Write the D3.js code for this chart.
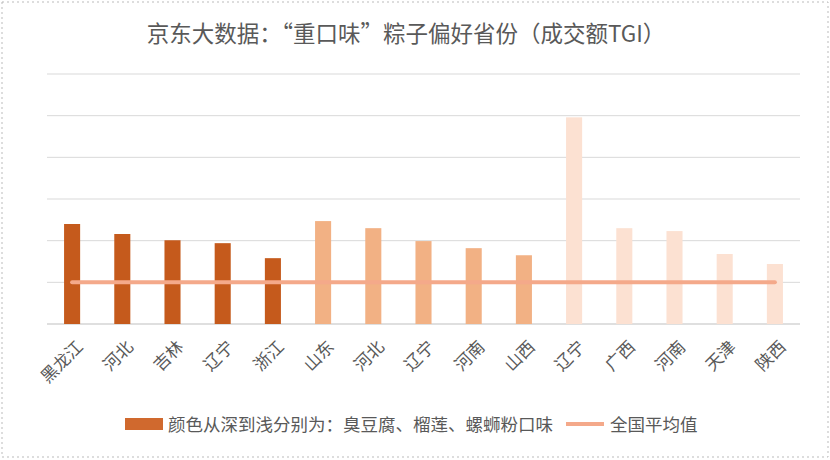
<!DOCTYPE html>
<html><head><meta charset="utf-8">
<script src="https://cdn.jsdelivr.net/npm/d3@7"></script>
<style>body{margin:0;background:#fff}svg{display:block}</style>
</head><body>
<svg id="c" width="830" height="460"></svg>
<script>
const categories = ["黑龙江","河北","吉林","辽宁","浙江","山东","河北","辽宁","河南","山西","辽宁","广西","河南","天津","陕西"];
const tgiValues = [240,216,201,194,158,247,230,199,182,165,496,230,223,168,144];
const flavorGroup = [0,0,0,0,0,1,1,1,1,1,2,2,2,2,2];
const avgValue = [100];
const yTicks = [0,100,200,300,400,500,600];
const groupColors = ["#C55A1C","#F2B184","#FCE1D2"];

const svg = d3.select("#c");
const font = "'Noto Sans CJK SC', sans-serif";
svg.append("rect").attr("x",2).attr("y",2).attr("width",826).attr("height",455)
  .attr("fill","#fff").attr("stroke","#bbb").attr("stroke-dasharray","2,3");
const m = {l:47,r:800,t:74,b:324};
const x = d3.scaleBand().domain(d3.range(categories.length)).range([m.l,m.r]).paddingInner(0.68).paddingOuter(0.34);
const y = d3.scaleLinear().domain([0,600]).range([m.b,m.t]);

svg.append("g").selectAll("line").data(yTicks).join("line")
  .attr("x1",m.l).attr("x2",m.r).attr("y1",d=>y(d)).attr("y2",d=>y(d))
  .attr("stroke",d=>d===0?"#bfbfbf":"#d9d9d9").attr("stroke-width",1);

svg.append("g").selectAll("rect").data(tgiValues).join("rect")
  .attr("x",(d,i)=>x(i)).attr("width",x.bandwidth())
  .attr("y",d=>y(d)).attr("height",d=>y(0)-y(d))
  .attr("fill",(d,i)=>groupColors[flavorGroup[i]]);

const lineData = categories.map((c,i)=>[x(i)+x.bandwidth()/2, y(avgValue[0])]);
svg.append("path").attr("d",d3.line()(lineData)).attr("stroke","#F4A98A")
  .attr("stroke-width",4).attr("fill","none").attr("stroke-linecap","round");

svg.append("g").selectAll("text").data(categories).join("text")
  .attr("transform",(d,i)=>`translate(${x(i)+x.bandwidth()/2+12},${m.b+24}) rotate(-45)`)
  .attr("text-anchor","end").attr("font-family",font).attr("font-size",17).attr("fill","#595959")
  .text(d=>d);

svg.append("text").attr("x",406).attr("y",42).attr("text-anchor","middle")
  .attr("font-family",font).attr("font-size",22.5).attr("fill","#595959")
  .text("京东大数据：“重口味”粽子偏好省份（成交额TGI）");

const lg = svg.append("g").attr("font-family",font).attr("font-size",17.5).attr("fill","#595959");
lg.append("rect").attr("x",125).attr("y",418).attr("width",38).attr("height",12).attr("fill","#D0692E");
lg.append("text").attr("x",168).attr("y",431).attr("fill","#595959").text("颜色从深到浅分别为：臭豆腐、榴莲、螺蛳粉口味");
lg.append("line").attr("x1",566).attr("x2",604).attr("y1",424).attr("y2",424).attr("stroke","#F4A98A").attr("stroke-width",4);
lg.append("text").attr("x",610).attr("y",431).attr("fill","#595959").text("全国平均值");
</script>
</body></html>
